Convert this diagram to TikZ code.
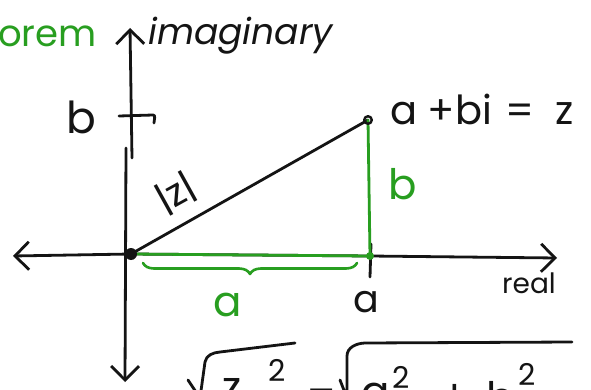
\documentclass[tikz,border=0pt]{standalone}
\usepackage{fontspec}
\setmainfont{Poppins}
\usetikzlibrary{arrows.meta,decorations.pathreplacing}
\definecolor{hgreen}{RGB}{40,158,32}
\definecolor{hink}{RGB}{20,20,20}
\tikzset{
  ink/.style={draw=hink, line width=2.8pt, line cap=round, line join=round},
  gink/.style={ink, draw=hgreen},
  barb/.style={-{Straight Barb[length=14pt,width=28pt,line width=2.8pt]}},
  txt/.style={inner sep=0pt, text=hink},
  gtxt/.style={inner sep=0pt, text=hgreen},
}
\begin{document}
\begin{tikzpicture}[x=1pt,y=-1pt]
\useasboundingbox (0,0) rectangle (591,390);
\clip (0,0) rectangle (591,390);
\fill[white] (0,0) rectangle (591,390);

% key points
\coordinate (O) at (131,254);
\coordinate (Z) at (368,120);
\coordinate (A) at (370,256);
\coordinate (Xl) at (13,256);
\coordinate (Xr) at (557,258);
\coordinate (Yt) at (130,28);
\coordinate (Yu) at (132,158);
\coordinate (Yl) at (126,148);
\coordinate (Yb) at (125,382);

% axes
\draw[ink,barb] (O) -- (Xl);
\draw[ink,barb] (O) -- (A) -- (Xr);
\draw[ink,barb] (Yu) -- (Yt);
\draw[ink,barb] (Yl) -- (Yb);

% tick at b on imaginary axis
\coordinate (Tb1) at (119,116);
\coordinate (Tb2) at (153,115);
\draw[ink] (Tb1) -- (Tb2) to[out=0,in=90] (154,123);

% tick at a on real axis
\coordinate (Ta1) at (371,244);
\coordinate (Ta2) at (370,277);
\draw[ink] (Ta1) -- (Ta2);

% modulus line
\draw[ink] (O) -- (Z);

% green legs
\draw[gink] (O) -- (A);
\draw[gink] (Z) -- (A);

% brace
\coordinate (Br1) at (143,263);
\coordinate (Br2) at (357,263);
\draw[gink, line width=2.6pt, decorate, decoration={brace, mirror, amplitude=11pt, raise=0pt}] (Br1) -- (Br2);

% dots
\fill[hink] (O) circle (6);
\draw[ink, line width=2.4pt] (Z) circle (3.8);
\fill[hgreen] (A) circle (4);

% labels
\node[txt, font=\fontsize{44}{44}\selectfont] (lb) at (81,117) {b};
\node[txt, font=\fontsize{40}{40}\selectfont, anchor=base west] (lz) at (390,125) {a +bi \hspace{3pt}= \hspace{10pt}z};
\node[gtxt, font=\fontsize{42}{42}\selectfont] (lgb) at (403,184) {b};
\node[gtxt, font=\fontsize{42}{42}\selectfont] (lga) at (228,305) {a};
\node[txt, font=\fontsize{38}{38}\selectfont] (la) at (366,302) {a};
\node[txt, font=\fontsize{28}{28}\selectfont, anchor=base west] (lre) at (502,293) {real};
\node[txt, font=\fontsize{38}{38}\selectfont, rotate=29] (lmod) at (176,193) {|z|};
\node[txt, font=\itshape\fontsize{36}{36}\selectfont, anchor=base west] (lim) at (148,45) {imaginary};
\node[gtxt, font=\fontsize{37}{37}\selectfont, anchor=base west] (lor) at (-2,47) {orem};

% bottom formula (cut off)
\coordinate (R1a) at (188,380);
\coordinate (R1b) at (200,398);
\coordinate (R1c) at (205,362);
\coordinate (R1d) at (295,343);
\draw[ink] (R1a) -- (R1b) -- (R1c) to[out=80,in=185] (220,352) -- (R1d);
\coordinate (R2a) at (340,380);
\coordinate (R2b) at (347,398);
\coordinate (R2c) at (347,356);
\coordinate (R2d) at (572,342);
\draw[ink] (R2a) -- (R2b) -- (R2c) to[out=90,in=182] (365,343) -- (R2d);
\node[txt, font=\fontsize{42}{42}\selectfont, anchor=base west] (fz) at (222,401) {z};
\node[txt, font=\fontsize{30}{30}\selectfont, anchor=base west] (f2a) at (268,381) {2};
\node[txt, font=\fontsize{42}{42}\selectfont, anchor=base west] (feq) at (306,410) {=};
\node[txt, font=\fontsize{42}{42}\selectfont, anchor=base west] (fa) at (361,406) {a};
\node[txt, font=\fontsize{30}{30}\selectfont, anchor=base west] (f2b) at (392,388) {2};
\node[txt, font=\fontsize{42}{42}\selectfont, anchor=base west] (fp) at (440,410) {+};
\node[txt, font=\fontsize{42}{42}\selectfont, anchor=base west] (fb) at (486,412) {b};
\node[txt, font=\fontsize{30}{30}\selectfont, anchor=base west] (f2c) at (518,385) {2};
\end{tikzpicture}
\end{document}
